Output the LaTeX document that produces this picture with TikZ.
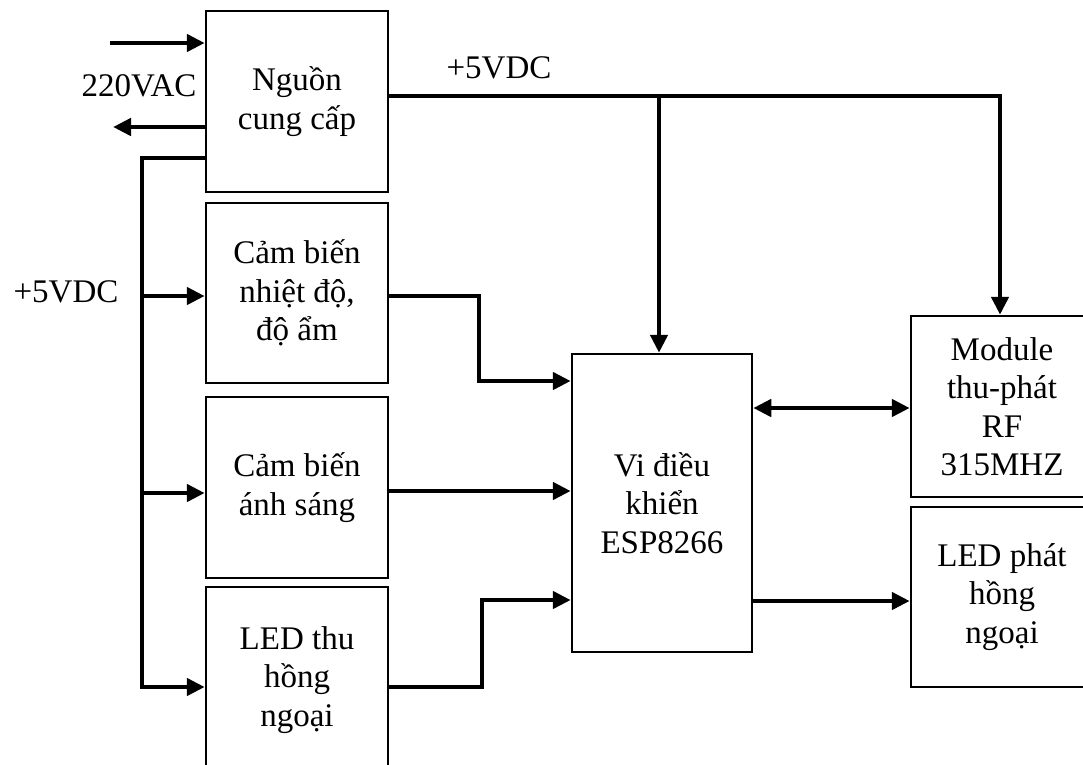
\documentclass[tikz,border=0pt]{standalone}
\usepackage{fontspec}
\setmainfont{Liberation Serif}
\usetikzlibrary{arrows.meta}
\begin{document}
\begin{tikzpicture}[x=1pt,y=-1pt,
  blk/.style={draw,line width=2.5pt,inner sep=0pt,align=center,font=\fontsize{33}{38.5}\selectfont},
  lbl/.style={align=center,font=\fontsize{33}{38.5}\selectfont,inner sep=0pt},
  wire/.style={line width=4.5pt},
  conn/.style={line width=4.5pt,-{Triangle[length=18pt,width=17pt]}},
  biconn/.style={line width=4.5pt,{Triangle[length=18pt,width=17pt]}-{Triangle[length=18pt,width=17pt]}},
 ]
\clip (0,0) rectangle (1083,764);
\fill[white] (0,0) rectangle (1083,764);

% blocks
\node[blk,minimum width=182pt,minimum height=181pt] (ps) at (297,101.5) {Nguồn\\cung cấp};
\node[blk,minimum width=182pt,minimum height=180pt] (nhiet) at (297,293) {Cảm biến\\nhiệt độ,\\độ ẩm};
\node[blk,minimum width=182pt,minimum height=181pt] (anh) at (297,487.5) {Cảm biến\\ánh sáng};
\node[blk,minimum width=182pt,minimum height=186pt] (ledthu) at (297,680) {LED thu\\hồng\\ngoại};
\node[blk,minimum width=180pt,minimum height=298pt] (vi) at (662,503) {Vi điều\\khiển\\ESP8266};
\node[blk,minimum width=182pt,minimum height=181pt] (rf) at (1002,406.5) {Module\\thu-phát\\RF\\315MHZ};
\node[blk,minimum width=182pt,minimum height=180pt] (ledphat) at (1002,597) {LED phát\\hồng\\ngoại};

% labels
\node[lbl] (ac) at (139,86) {220VAC};
\node[lbl] (v5top) at (499,68) {+5VDC};
\node[lbl] (v5left) at (66,292) {+5VDC};

% AC lines
\coordinate (acin) at (110,43);
\coordinate (acout) at (113,127);
\draw[conn] (acin) -- (acin -| ps.west);
\draw[conn] (ps.west |- acout) -- (acout);

% left supply bus
\coordinate (busTop) at (142,158);
\coordinate (busBot) at (142,687);
\coordinate (br1) at (142,296);
\coordinate (br2) at (142,493);
\draw[conn] (ps.west |- busTop) -- (busTop) -- (busBot) -- (busBot -| ledthu.west);
\draw[conn] (br1) -- (br1 -| nhiet.west);
\draw[conn] (br2) -- (br2 -| anh.west);

% top supply bus
\coordinate (t1) at (659,96);
\coordinate (t2) at (1000,96);
\draw[conn] (ps.east |- t2) -- (t2) -- (t2 |- rf.north);
\draw[conn] (t1) -- (t1 |- vi.north);

% sensors to MCU
\coordinate (n1) at (479,296);
\coordinate (n2) at (479,381);
\draw[conn] (nhiet.east |- n1) -- (n1) -- (n2) -- (n2 -| vi.west);
\coordinate (a1) at (480,491);
\draw[conn] (anh.east |- a1) -- (a1 -| vi.west);
\coordinate (l1) at (482,687);
\coordinate (l2) at (482,600);
\draw[conn] (ledthu.east |- l1) -- (l1) -- (l2) -- (l2 -| vi.west);

% MCU to outputs
\coordinate (r1) at (830,408);
\draw[biconn] (vi.east |- r1) -- (r1 -| rf.west);
\coordinate (p1) at (830,601);
\draw[conn] (vi.east |- p1) -- (p1 -| ledphat.west);
\end{tikzpicture}
\end{document}
